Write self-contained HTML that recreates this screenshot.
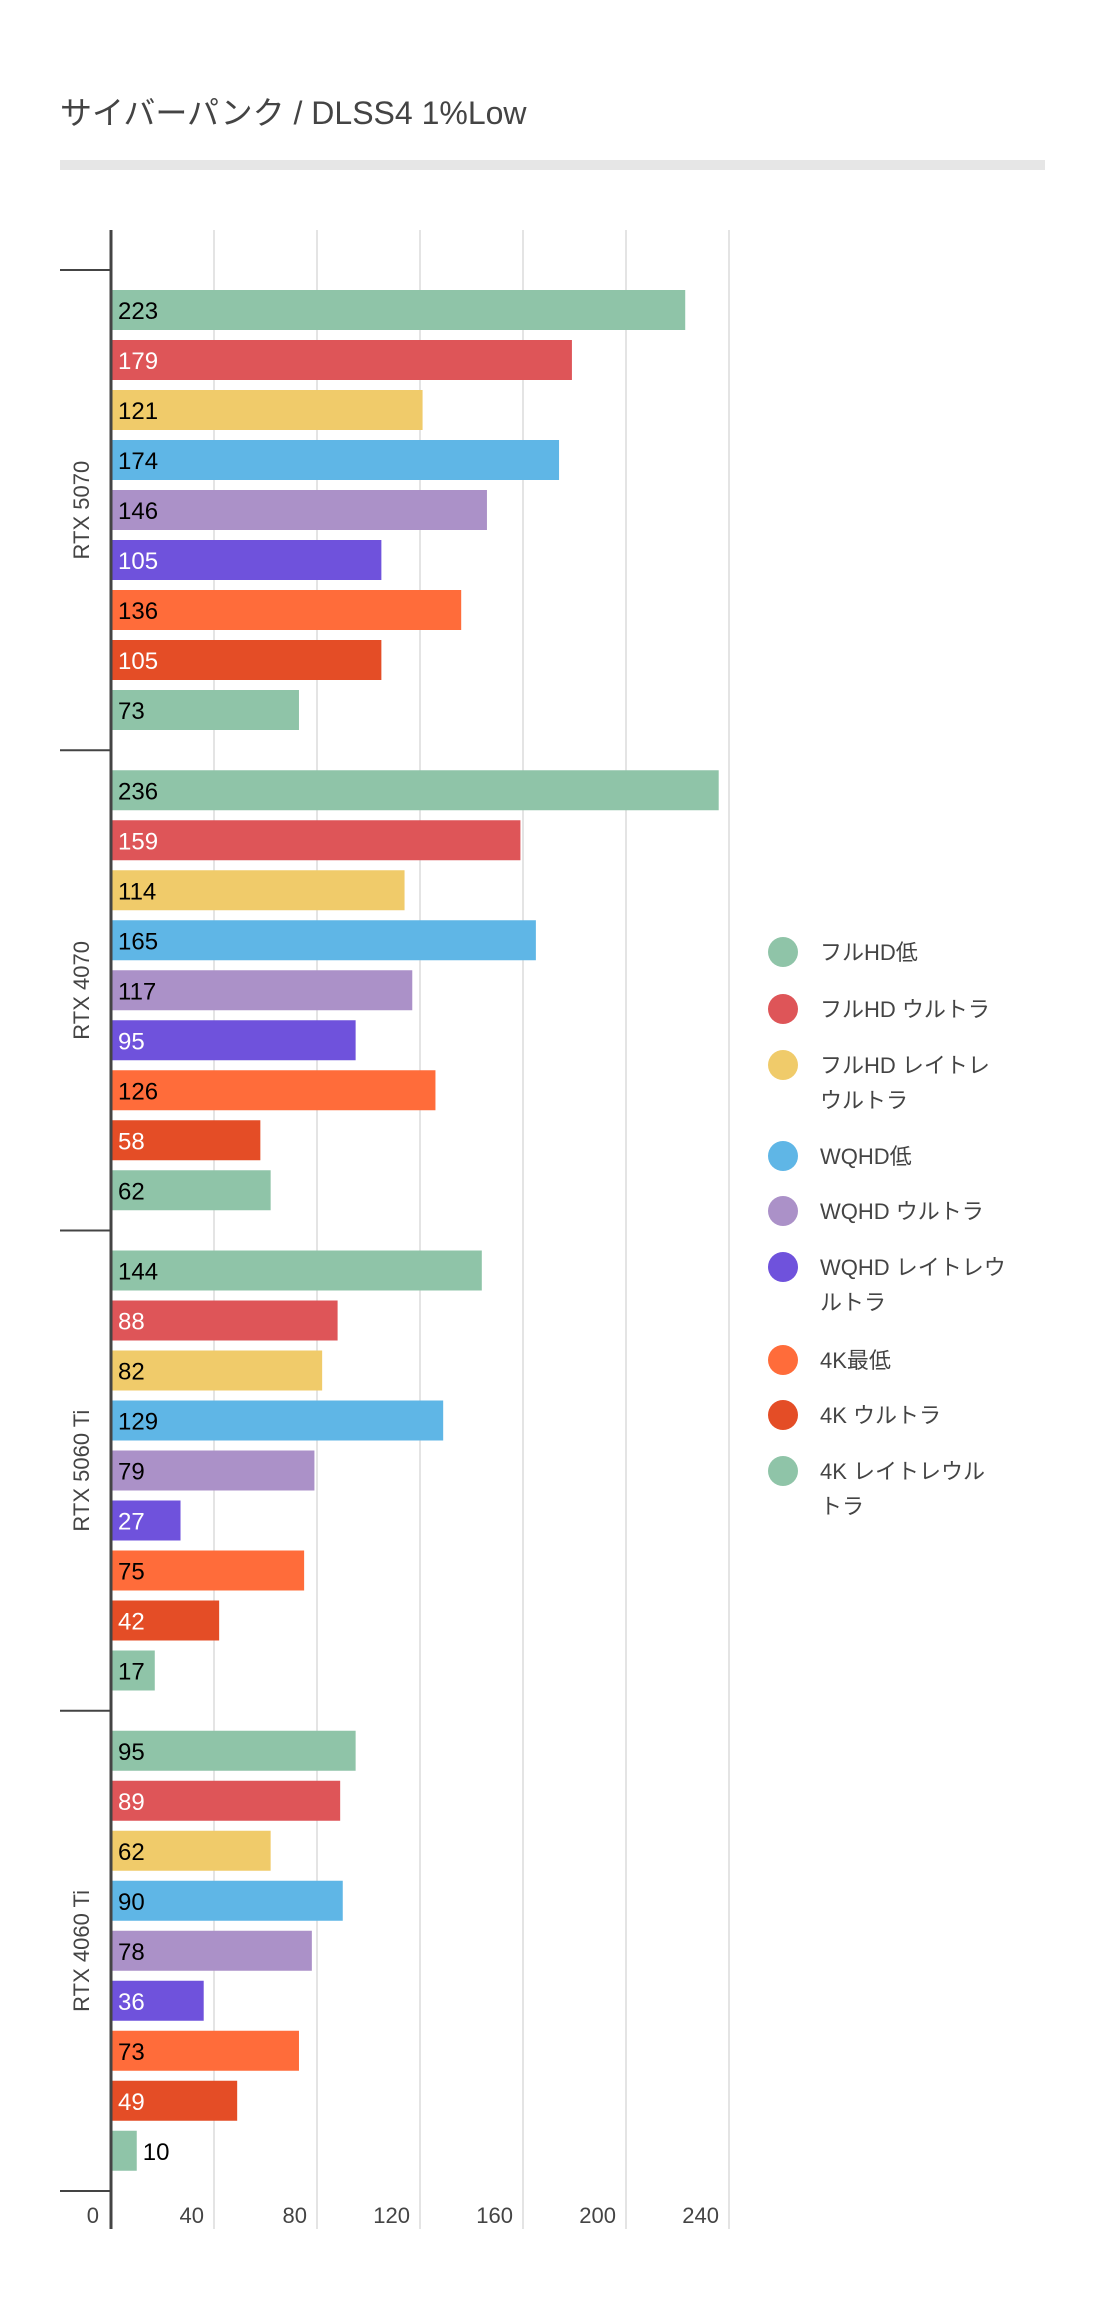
<!DOCTYPE html>
<html><head><meta charset="utf-8"><style>
body{margin:0;background:#fff;}
svg text{font-family:"Liberation Sans","Noto Sans CJK JP",sans-serif;}
</style></head><body>
<svg width="1100" height="2298" xmlns="http://www.w3.org/2000/svg">
<text x="60" y="124" font-size="32" fill="#444">サイバーパンク / DLSS4 1%Low</text>
<rect x="60" y="160" width="985" height="10" fill="#e6e6e6"/>
<g id="grid"></g><g id="bars"></g><g id="axis"></g><g id="legend"></g>
</svg>
<script>
const groups=["RTX 5070","RTX 4070","RTX 5060 Ti","RTX 4060 Ti"];
const seriesNames=["フルHD低","フルHD ウルトラ","フルHD レイトレ|ウルトラ","WQHD低","WQHD ウルトラ","WQHD レイトレウ|ルトラ","4K最低","4K ウルトラ","4K レイトレウル|トラ"];
const s_fhdLow=[223,236,144,95];
const s_fhdUltra=[179,159,88,89];
const s_fhdRt=[121,114,82,62];
const s_wqhdLow=[174,165,129,90];
const s_wqhdUltra=[146,117,79,78];
const s_wqhdRt=[105,95,27,36];
const s_4kLow=[136,126,75,73];
const s_4kUltra=[105,58,42,49];
const s_4kRt=[73,62,17,10];
const ticks=[0,40,80,120,160,200,240];
const series=[s_fhdLow,s_fhdUltra,s_fhdRt,s_wqhdLow,s_wqhdUltra,s_wqhdRt,s_4kLow,s_4kUltra,s_4kRt];
const colors=["#8fc4a8","#de5558","#f0cb6a","#5fb6e6","#ab91c8","#6f52dc","#ff6c3a","#e44d26","#8fc4a8"];
const textCol=["#000","#fff","#000","#000","#000","#fff","#000","#fff","#000"];
const NS="http://www.w3.org/2000/svg";
const X0=111,XS=(729-111)/240,TOP=230,BOT=2229,G0=270,GH=480.25;
const xs=v=>X0+v*XS;
function mk(t,a,p){const e=document.createElementNS(NS,t);for(const k in a)e.setAttribute(k,a[k]);p.appendChild(e);return e;}
const grid=document.getElementById('grid'),bars=document.getElementById('bars'),axis=document.getElementById('axis'),leg=document.getElementById('legend');
ticks.forEach(t=>{
 if(t>0){const l=mk('line',{x1:xs(t),x2:xs(t),y1:TOP,y2:BOT,stroke:'#dcdcdc','stroke-width':1.5},grid);
 
 }
 const tx=mk('text',{x:t===0?xs(t)-12:xs(t)-10,y:2223,'font-size':22,fill:'#444','text-anchor':'end'},axis);
 tx.textContent=t;
 
 
});
groups.forEach((g,gi)=>{
 const gy=G0+gi*GH;
 const tk=mk('line',{x1:60,x2:X0,y1:gy,y2:gy,stroke:'#444','stroke-width':2},axis);
 
 
 const lab=mk('text',{x:0,y:0,'font-size':22,fill:'#444','text-anchor':'middle',transform:`translate(89,${gy+GH/2}) rotate(-90)`},axis);
 lab.textContent=g;
 
 
 series.forEach((s,si)=>{
  const v=s[gi],y=gy+20+si*50,w=xs(v)-X0;
  const r=mk('rect',{x:X0,y:y,width:w,height:40,fill:colors[si]},bars);
  
  
  const inside=w>40;
  const t=mk('text',{x:inside?X0+7:xs(v)+6,y:y+29,'font-size':24,fill:inside?textCol[si]:'#000'},bars);
  t.textContent=v;
  
  
 });
});
const tkb=mk('line',{x1:60,x2:X0,y1:G0+4*GH,y2:G0+4*GH,stroke:'#444','stroke-width':2},axis);


const ax=mk('line',{x1:X0,x2:X0,y1:TOP,y2:BOT,stroke:'#444','stroke-width':3},axis);


const legY=[952,1009,1065,1156,1211,1267,1360,1415,1471];
seriesNames.forEach((n,i)=>{
 const g=mk('g',{},leg);
 
 
 mk('circle',{cx:783,cy:legY[i],r:15,fill:colors[i]},g);
 const parts=n.split('|');
 parts.forEach((p,j)=>{const t=mk('text',{x:820,y:legY[i]+8+j*35,'font-size':22,fill:'#444'},g);t.textContent=p;});
});
</script>
</body></html>
